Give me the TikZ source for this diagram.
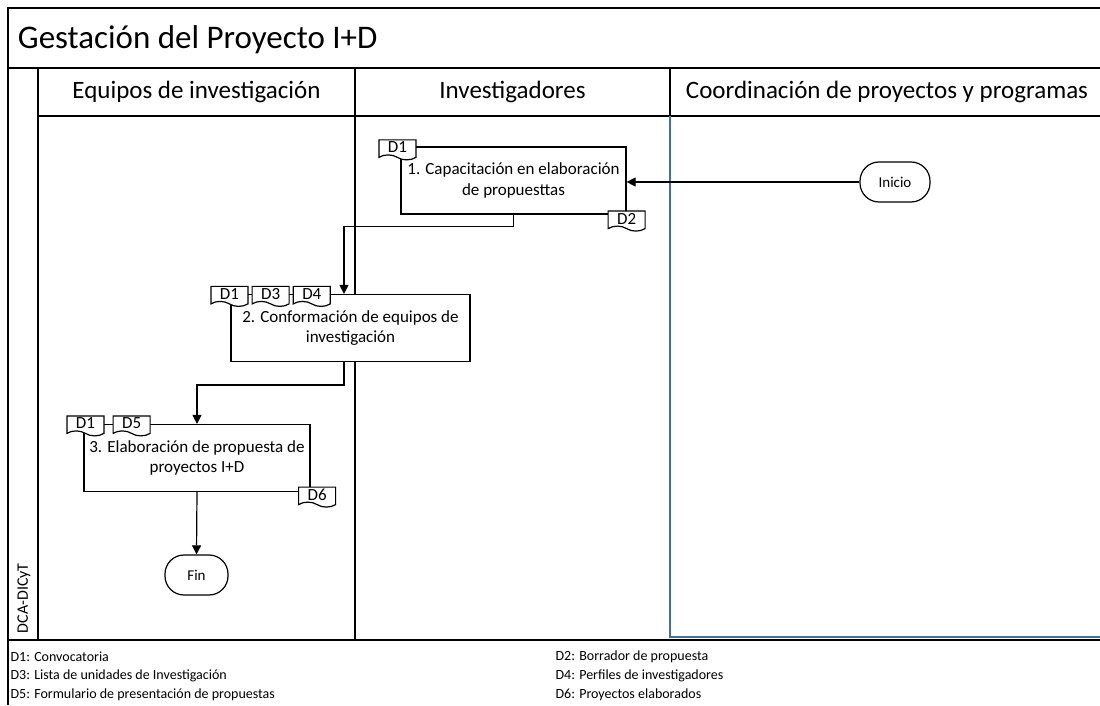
\documentclass[tikz,border=0pt]{standalone}
\usepackage{fontspec}
\setmainfont{Carlito}
\usetikzlibrary{arrows.meta,positioning,calc,shapes.symbols}
\definecolor{laneblue}{RGB}{65,113,156}

\begin{document}
\begin{tikzpicture}[x=1pt, y=1pt, >={Triangle[length=9pt,width=9pt]}, line width=1.2pt]
\tikzstyle{task}=[draw, fill=white, minimum width=225pt, minimum height=67pt, align=center, font=\fontsize{17}{20.5}\selectfont, inner sep=2pt]
\tikzstyle{doc}=[draw, fill=white, tape, tape bend top=none, tape bend bottom=out and in, tape bend height=5pt, minimum width=37pt, minimum height=20pt, inner sep=0pt, font=\fontsize{17}{17}\selectfont]
\tikzstyle{term}=[draw, fill=white, rounded corners=19pt, minimum width=70pt, minimum height=40pt, font=\fontsize{15}{15}\selectfont]
\tikzstyle{lane}=[font=\fontsize{25}{25}\selectfont]
\tikzstyle{legend}=[anchor=west, inner sep=0pt, font=\fontsize{14}{14}\selectfont]
\useasboundingbox (0,0) rectangle (1100,705);
% frame and lanes
\draw (8,0) -- (8,697) -- (1100,697);
\draw (8,637) -- (1100,637);
\draw (38,589) -- (1100,589);
\draw (38,637) -- (38,65);
\draw (355,637) -- (355,65);
\draw (670,637) -- (670,589);
\draw (8,65) -- (1100,65);
\draw[laneblue] (670,589) -- (670,68) -- (1100,68);
\node[anchor=west, font=\fontsize{33}{33}\selectfont] (title) at (14,665) {Gestación del Proyecto I+D};
\node[lane] (lane1) at (196.5,613) {Equipos de investigación};
\node[lane] (lane2) at (512.5,613) {Investigadores};
\node[lane] (lane3) at (887,613) {Coordinación de proyectos y programas};
\node[rotate=90, anchor=west, font=\fontsize{16}{16}\selectfont] (unit) at (24,68) {DCA-DICyT};
% activities
\node[task] (p1) at (513.5,524.5) {1. Capacitación en elaboración\\de propuesttas};
\node[task, minimum width=239pt] (p2) at (350.5,377) {2. Conformación de equipos de\\investigación};
\node[task, minimum width=226pt] (p3) at (197,247) {3. Elaboración de propuesta de\\proyectos I+D};
\node[term] (ini) at (895,523) {Inicio};
\node[term, minimum width=63pt] (fin) at (196.5,130) {Fin};
% documents
\node[doc] (p1d1) at ($(p1.north west)+(-3,-1)$) {D1};
\node[doc] (p1d2) at ($(p1.south east)+(0,-4)$) {D2};
\node[doc] (p2d1) at ($(p2.north west)+(-1,0)$) {D1};
\node[doc, right=3pt of p2d1] (p2d3) {D3};
\node[doc, right=3pt of p2d3] (p2d4) {D4};
\node[doc] (p3d1) at ($(p3.north west)+(2,0.5)$) {D1};
\node[doc, right=8pt of p3d1] (p3d5) {D5};
\node[doc] (p3d6) at ($(p3.south east)+(6.5,-2.5)$) {D6};
% flow
\draw[->] (ini.west) -- (ini.west -| p1.east);
\draw[->] (p1.south) -- ++(0,-12) -| ([xshift=-6.5pt]p2.north);
\draw[->] ([xshift=-6.5pt]p2.south) -- ++(0,-23) -| (p3.north);
\draw[->] (p3.south) -- (fin.north);
% legend
\node[legend] (l1) at (10,48) {D1: Convocatoria};
\node[legend] (l3) at (10,29) {D3: Lista de unidades de Investigación};
\node[legend] (l5) at (10,10) {D5: Formulario de presentación de propuestas};
\node[legend] (l2) at (555,48) {D2: Borrador de propuesta};
\node[legend] (l4) at (555,29) {D4: Perfiles de investigadores};
\node[legend] (l6) at (555,10) {D6: Proyectos elaborados};
\end{tikzpicture}
\end{document}
